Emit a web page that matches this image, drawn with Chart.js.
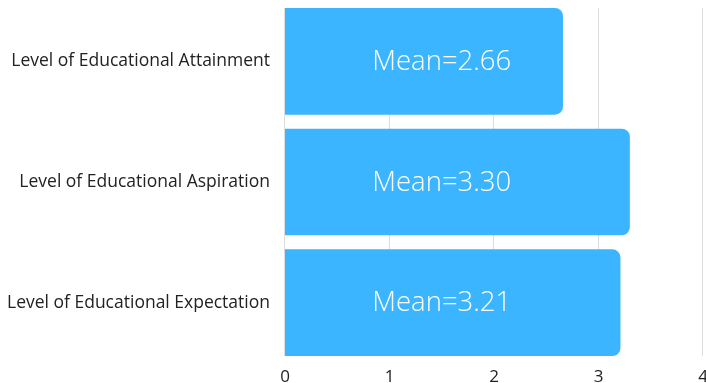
<!DOCTYPE html>
<html>
<head>
<meta charset="utf-8">
<script src="https://cdn.jsdelivr.net/npm/chart.js@4"></script>
<style>
html, body { margin: 0; padding: 0; background: #fff; overflow: hidden; }
</style>
</head>
<body>
<canvas id="meanChart" width="706" height="383"></canvas>
<script>
const categories = ['Level of Educational Attainment', 'Level of Educational Aspiration', 'Level of Educational Expectation'];
const means = [2.66, 3.30, 3.21];
const xTicks = [0, 1, 2, 3, 4];

// light vertical gridlines, only as tall as the bars
const shortGrid = {
    id: 'shortGrid',
    beforeDatasetsDraw(chart) {
        const ctx = chart.ctx;
        const bars = chart.getDatasetMeta(0).data;
        const top = bars[0].y - bars[0].height / 2;
        const bottom = bars[bars.length - 1].y + bars[bars.length - 1].height / 2;
        ctx.save();
        ctx.strokeStyle = '#dddddd';
        ctx.lineWidth = 1;
        xTicks.forEach(v => {
            const x = Math.round(chart.scales.x.getPixelForValue(v)) - 0.5;
            ctx.beginPath();
            ctx.moveTo(x, top);
            ctx.lineTo(x, bottom);
            ctx.stroke();
        });
        ctx.restore();
    }
};

// "Mean=x.xx" inside each bar
const meanLabels = {
    id: 'meanLabels',
    afterDatasetsDraw(chart) {
        const ctx = chart.ctx;
        const meta = chart.getDatasetMeta(0);
        const x = chart.scales.x.getPixelForValue(1.5);
        ctx.save();
        ctx.fillStyle = '#ffffff';
        ctx.font = '300 27.5px "Open Sans"';
        ctx.textAlign = 'center';
        ctx.textBaseline = 'middle';
        meta.data.forEach((bar, i) => {
            ctx.fillText('Mean=' + means[i].toFixed(2), x, bar.y + 1);
        });
        ctx.restore();
    }
};

new Chart(document.getElementById('meanChart'), {
    type: 'bar',
    data: {
        labels: categories,
        datasets: [{
            data: means,
            backgroundColor: '#3bb5ff',
            borderRadius: { topRight: 8, bottomRight: 8 },
            borderSkipped: 'start',
            categoryPercentage: 1.0,
            barPercentage: 0.884
        }]
    },
    options: {
        indexAxis: 'y',
        responsive: false,
        animation: false,
        layout: { padding: { top: 1, right: 3, left: 0, bottom: 0 } },
        plugins: { legend: { display: false }, tooltip: { enabled: false } },
        scales: {
            x: {
                min: 0, max: 4,
                afterBuildTicks: (axis) => { axis.ticks = xTicks.map(v => ({ value: v })); },
                afterFit: (axis) => {
                    axis.height = 20;
                    axis.paddingLeft = 0;
                    axis.paddingRight = 0;
                },
                grid: { display: false, drawTicks: false },
                border: { display: false },
                ticks: { color: '#222', font: { family: 'Open Sans', size: 17 }, padding: 4 }
            },
            y: {
                afterFit: (axis) => {
                    axis.width = 285;
                    axis.paddingTop = 0;
                    axis.paddingBottom = 0;
                },
                grid: { display: false, drawTicks: false },
                border: { display: false },
                ticks: { color: '#222', font: { family: 'Open Sans', size: 17.5 }, padding: 15 }
            }
        }
    },
    plugins: [shortGrid, meanLabels]
});
</script>
</body>
</html>
